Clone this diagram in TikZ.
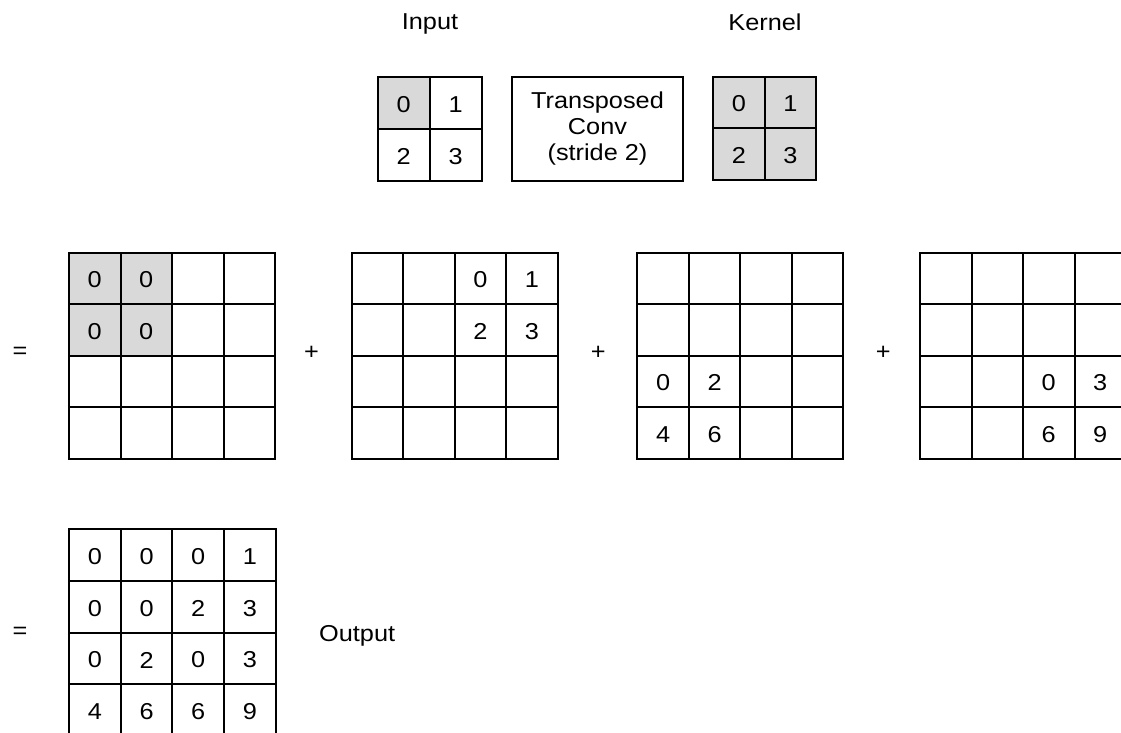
\documentclass[tikz,border=0pt]{standalone}
\usepackage{fontspec}
\setmainfont[FakeStretch=1.1]{Liberation Sans}
\usetikzlibrary{backgrounds}
\definecolor{cellgray}{HTML}{D9D9D9}
\tikzset{
  cell/.style={draw=black, line width=2pt, minimum width=#1, minimum height=#1,
    inner sep=0pt, outer sep=0pt, anchor=north west},
  txt/.style={font=\fontsize{23}{26}\selectfont, inner sep=0pt},
  num/.style={txt, yshift=-1.5pt},
  shade/.style={fill=cellgray},
}
\newcommand\mygrid[5]{%
  \foreach \r in {1,...,#5}{%
    \foreach \c in {1,...,#5}{%
      \node[cell=#4] (#1-\r-\c) at ({#2+(\c-1)*#4},{#3+(\r-1)*#4}) {};
    }%
  }%
}
\begin{document}
\begin{tikzpicture}[x=1pt,y=-1pt]
\useasboundingbox (0,0) rectangle (1121,733);
\clip (0,0) rectangle (1121,733);

% labels
\node[txt, anchor=base] (lin) at (430,30) {Input};
\node[txt, anchor=base] (lker) at (765,30.5) {Kernel};

% input and kernel
\mygrid{in}{377.5}{76.7}{52.1}{2}
\mygrid{k}{713.2}{76.7}{51.5}{2}
\node[draw=black, line width=2pt, minimum width=171.6pt, minimum height=104.3pt,
  txt, align=center, inner sep=0pt] (conv) at (597.5,128.85)
  {Transposed\\Conv\\(stride 2)};

% partial grids
\mygrid{a}{69}{252.7}{51.5}{4}
\mygrid{b}{351.7}{252.7}{51.5}{4}
\mygrid{c}{637.3}{252.7}{51.5}{4}
\mygrid{d}{920}{252.7}{51.5}{4}

% output grid
\mygrid{o}{69}{529.3}{51.7}{4}

\begin{scope}[on background layer]
  \fill[shade] (in-1-1.north west) rectangle (in-1-1.south east);
  \fill[shade] (k-1-1.north west) rectangle (k-2-2.south east);
  \fill[shade] (a-1-1.north west) rectangle (a-2-2.south east);
\end{scope}

% numbers
\node[num] at (in-1-1) {0}; \node[num] at (in-1-2) {1};
\node[num] at (in-2-1) {2}; \node[num] at (in-2-2) {3};
\node[num] at (k-1-1) {0}; \node[num] at (k-1-2) {1};
\node[num] at (k-2-1) {2}; \node[num] at (k-2-2) {3};

\node[num] at (a-1-1) {0}; \node[num] at (a-1-2) {0};
\node[num] at (a-2-1) {0}; \node[num] at (a-2-2) {0};
\node[num] at (b-1-3) {0}; \node[num] at (b-1-4) {1};
\node[num] at (b-2-3) {2}; \node[num] at (b-2-4) {3};
\node[num] at (c-3-1) {0}; \node[num] at (c-3-2) {2};
\node[num] at (c-4-1) {4}; \node[num] at (c-4-2) {6};
\node[num] at (d-3-3) {0}; \node[num] at (d-3-4) {3};
\node[num] at (d-4-3) {6}; \node[num] at (d-4-4) {9};

\foreach \r/\vals in {1/{0,0,0,1},2/{0,0,2,3},3/{0,2,0,3},4/{4,6,6,9}}{%
  \foreach \v [count=\c] in \vals {%
    \node[num] at (o-\r-\c) {\v};
  }%
}

% operators
\node[txt] (eq1) at (20,353) {=};
\node[txt] (p1) at (311.5,353) {+};
\node[txt] (p2) at (598.3,353) {+};
\node[txt] (p3) at (883.3,353) {+};
\node[txt] (eq2) at (20,633) {=};
\node[txt, anchor=base west] (lout) at (319,641) {Output};
\end{tikzpicture}
\end{document}
